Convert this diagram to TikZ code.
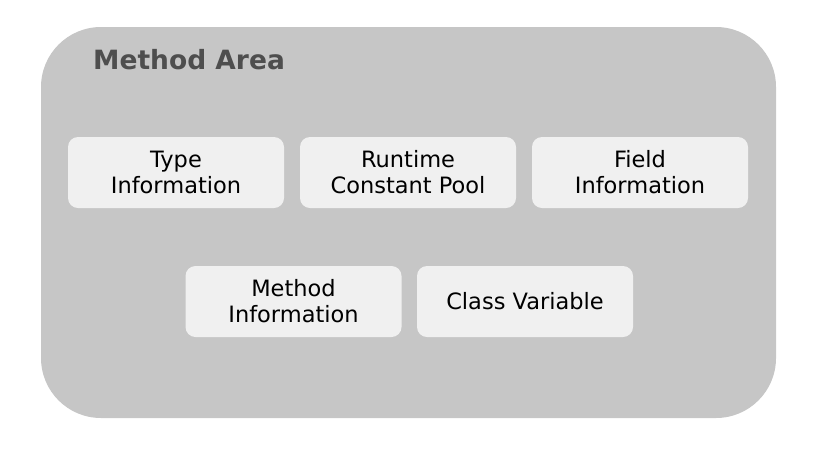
\documentclass[tikz,border=0pt]{standalone}
\usepackage{fontspec}
\setmainfont{DejaVu Sans}
\definecolor{areabg}{HTML}{C6C6C6}
\definecolor{boxbg}{HTML}{F0F0F0}
\definecolor{titlegray}{HTML}{4E4E4E}
\begin{document}
\begin{tikzpicture}[x=1pt,y=-1pt,
  area/.style={fill=areabg, draw=none, rounded corners=60pt},
  infobox/.style={fill=boxbg, draw=none, rounded corners=10pt, minimum width=216pt, minimum height=71pt, align=center, inner sep=0pt, font=\fontsize{22.5}{26}\selectfont, text=black},
  title/.style={font=\fontsize{26.5}{30}\selectfont\bfseries, text=titlegray, anchor=base west, inner sep=0pt}]
\useasboundingbox (0,0) rectangle (821,448);
\path[area] (41,27) rectangle (776,418);
\node[title] (t) at (93,69) {Method Area};
\node[infobox] (type) at (176,172.5) {Type\\Information};
\node[infobox] (rcp) at (408,172.5) {Runtime\\Constant Pool};
\node[infobox] (field) at (640,172.5) {Field\\Information};
\node[infobox] (method) at (293.5,301.5) {Method\\Information};
\node[infobox] (cv) at (525,301.5) {Class Variable};
\end{tikzpicture}
\end{document}
